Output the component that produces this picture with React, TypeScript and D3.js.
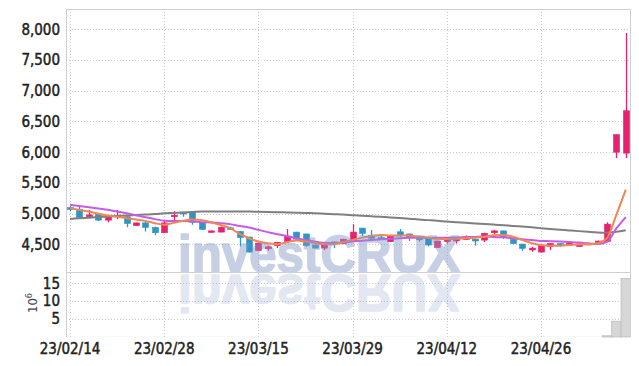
import React from 'react';
import * as d3 from 'd3';

const dates = [
  '23/02/14','23/02/15','23/02/16','23/02/17','23/02/20','23/02/21','23/02/22','23/02/23','23/02/24','23/02/27',
  '23/02/28','23/03/02','23/03/03','23/03/06','23/03/07','23/03/08','23/03/09','23/03/10','23/03/13','23/03/14',
  '23/03/15','23/03/16','23/03/17','23/03/20','23/03/21','23/03/22','23/03/23','23/03/24','23/03/27','23/03/28',
  '23/03/29','23/03/30','23/03/31','23/04/03','23/04/04','23/04/05','23/04/06','23/04/07','23/04/10','23/04/11',
  '23/04/12','23/04/13','23/04/14','23/04/17','23/04/18','23/04/19','23/04/20','23/04/21','23/04/24','23/04/25',
  '23/04/26','23/04/27','23/04/28','23/05/02','23/05/03','23/05/04','23/05/08','23/05/09','23/05/10','23/05/11',
];

const open = [
  5100,5070,4950,4985,4895,4950,4950,4806,4850,4775,
  4690,4965,5025,5035,4850,4700,4700,4770,4710,4620,
  4400,4430,4480,4545,4700,4670,4490,4440,4540,4510,
  4545,4765,4650,4610,4545,4705,4670,4620,4600,4450,
  4545,4557,4580,4585,4570,4690,4720,4580,4505,4410,
  4375,4465,4515,4485,4465,4505,4515,4545,6000,5985,
];
const high = [
  5130,5130,5060,4990,4965,5060,4955,4855,4870,4790,
  4880,5040,5030,5040,4855,4725,4790,4790,4715,4625,
  4530,4480,4540,4750,4705,4675,4495,4495,4545,4590,
  4830,4770,4735,4640,4650,4750,4675,4625,4605,4560,
  4590,4605,4645,4590,4690,4735,4725,4585,4510,4460,
  4485,4520,4520,4545,4512,4530,4560,4860,6290,7940,
];
const low = [
  5040,4940,4950,4880,4860,4910,4780,4800,4710,4650,
  4690,4880,4950,4820,4735,4695,4700,4735,4465,4370,
  4390,4400,4440,4545,4580,4460,4435,4410,4440,4505,
  4540,4635,4595,4575,4540,4620,4555,4545,4470,4445,
  4520,4515,4575,4480,4540,4660,4590,4505,4395,4380,
  4370,4410,4460,4480,4460,4490,4510,4540,5905,5905,
];
const close = [
  5070,4940,4980,4895,4960,4975,4840,4850,4775,4690,
  4850,4975,4995,4860,4745,4720,4780,4755,4610,4375,
  4520,4460,4535,4635,4585,4480,4440,4490,4530,4585,
  4700,4680,4600,4590,4645,4655,4620,4575,4490,4555,
  4585,4600,4625,4555,4680,4720,4610,4515,4435,4440,
  4480,4515,4485,4525,4508,4515,4555,4830,6285,6675,
];
// volume in millions of shares
const volume = [
  0.05,0.05,0.05,0.05,0.05,0.05,0.05,0.05,0.05,0.05,
  0.05,0.05,0.05,0.05,0.05,0.05,0.05,0.05,0.05,0.05,
  0.05,0.05,0.05,0.05,0.05,0.05,0.05,0.05,0.05,0.05,
  0.05,0.05,0.05,0.05,0.05,0.05,0.05,0.05,0.05,0.05,
  0.05,0.05,0.05,0.05,0.05,0.05,0.05,0.05,0.05,0.05,
  0.05,0.05,0.05,0.05,0.05,0.05,0.05,0.35,4.4,16.3,
];
// moving averages
const maShort = [
  5090,5060,5035,5000,4970,4950,4927,4905,4883,4845,
  4820,4850,4885,4905,4895,4860,4815,4764,4670,4600,
  4546,4520,4503,4535,4562,4546,4520,4503,4503,4535,
  4573,4610,4638,4655,4645,4645,4645,4627,4610,4590,
  4585,4590,4600,4610,4625,4650,4655,4627,4573,4520,
  4490,4480,4480,4490,4500,4505,4520,4600,4980,5390,
];
const maMid = [
  5144,5125,5106,5085,5062,5035,5008,4975,4943,4911,
  4885,4880,4880,4872,4862,4855,4845,4830,4800,4774,
  4736,4700,4666,4638,4600,4573,4546,4525,4520,4535,
  4546,4560,4573,4582,4590,4600,4610,4610,4610,4610,
  4610,4612,4615,4620,4627,4620,4615,4600,4585,4570,
  4557,4552,4546,4538,4530,4518,4505,4540,4760,4945,
];
const maLong = [
  4915,4925,4935,4945,4955,4962,4970,4978,4985,4993,
  5005,5012,5020,5028,5035,5035,5037,5037,5036,5034,
  5030,5027,5024,5020,5015,5010,5008,5000,4992,4985,
  4975,4965,4957,4948,4938,4928,4918,4905,4895,4885,
  4872,4862,4852,4842,4832,4822,4812,4800,4790,4778,
  4764,4752,4740,4728,4716,4705,4695,4690,4705,4730,
];
const priceTicks = [4500, 5000, 5500, 6000, 6500, 7000, 7500, 8000];
const volumeTicks = [5, 10, 15];
const dateTickIndex = [0, 10, 20, 30, 40, 50];

const W = 639, H = 366;
const L = 66, R = 630, T = 9, SEP = 272, B = 337;
const UP = '#e6226e', DOWN = '#2f95c8';
const tickFont = "'Liberation Sans Narrow','DejaVu Sans Condensed','Liberation Sans',sans-serif";

export default function App() {
  const idx = d3.range(dates.length);
  const x = d3.scaleLinear().domain([-0.43, dates.length - 1 + 0.45]).range([L, R]);
  const step = x(1) - x(0);
  const y = d3.scaleLinear().domain([4051, 8330]).range([SEP, T]);
  const yv = d3.scaleLinear().domain([0, 18.1]).range([B, SEP]);
  const fmt = d3.format(',');
  const mk = (arr: number[]) =>
    d3.line<number>().x((_, i) => x(i)).y((d) => y(d)).curve(d3.curveMonotoneX)(arr) || '';
  const bodyW = 6;

  return (
    <svg width={W} height={H} style={{ position: 'absolute', left: 0, top: 0, background: '#fff' }}>
      {/* grid */}
      <g stroke="#c6cbdc" strokeWidth={1} strokeDasharray="1,2">
        {priceTicks.map((t) => (
          <line key={'p' + t} x1={L} x2={R} y1={Math.round(y(t)) + 0.5} y2={Math.round(y(t)) + 0.5} />
        ))}
        {volumeTicks.map((t) => (
          <line key={'v' + t} x1={L} x2={R} y1={Math.round(yv(t)) + 0.5} y2={Math.round(yv(t)) + 0.5} />
        ))}
        {dateTickIndex.map((i) => (
          <line key={'d' + i} x1={Math.round(x(i)) + 0.5} x2={Math.round(x(i)) + 0.5} y1={T} y2={B} />
        ))}
      </g>
      {/* volume bars */}
      <g>
        {idx.map((i) => (
          <rect key={'vb' + i} x={x(i) - step / 2} width={step} y={yv(volume[i])} height={B - yv(volume[i])}
            fill="#d6d6d6" stroke="#bfbfbf" strokeWidth={volume[i] > 0.2 ? 0.8 : 0} />
        ))}
      </g>
      {/* candles */}
      <g>
        {idx.map((i) => {
          const up = close[i] >= open[i];
          const c = up ? UP : DOWN;
          const top = y(Math.max(open[i], close[i]));
          const bot = y(Math.min(open[i], close[i]));
          const cx = Math.round(x(i)) + 0.5;
          return (
            <g key={'c' + i}>
              <line x1={cx} x2={cx} y1={y(high[i])} y2={y(low[i])} stroke={c} strokeWidth={1.3} />
              <rect x={cx - bodyW / 2} width={bodyW} y={top} height={Math.max(bot - top, 1.5)} fill={c} stroke={c} strokeWidth={0.6} />
            </g>
          );
        })}
      </g>
      {/* moving averages */}
      <g fill="none" strokeWidth={2} strokeLinejoin="round">
        <path d={mk(maLong)} stroke="#7f7f7f" />
        <path d={mk(maMid)} stroke="#c65be9" />
        <path d={mk(maShort)} stroke="#f0874e" />
      </g>
      {/* watermark */}
      <g fontFamily="'Liberation Sans',Arial,sans-serif" fontWeight="bold" fontSize={51}>
        <g opacity={0.45}>
          <text x={178} y={272} textLength={282} lengthAdjust="spacingAndGlyphs" fill="#8597c4" stroke="#8597c4" strokeWidth={1.6} strokeLinejoin="round">investCRUX</text>
        </g>
        <g opacity={0.22} transform="translate(0,547) scale(1,-1)">
          <text x={178} y={272} textLength={282} lengthAdjust="spacingAndGlyphs" fill="#8597c4" stroke="#8597c4" strokeWidth={1.6} strokeLinejoin="round">investCRUX</text>
        </g>
      </g>
      {/* frame */}
      <g stroke="#cfcfd4" strokeWidth={1} fill="none">
        <line x1={L + 0.5} x2={L + 0.5} y1={T} y2={B} />
        <line x1={R + 0.5} x2={R + 0.5} y1={T} y2={B} />
        <line x1={L} x2={R + 1} y1={T + 0.5} y2={T + 0.5} />
        <line x1={L} x2={R + 1} y1={SEP + 0.5} y2={SEP + 0.5} />
      </g>
      {/* axis labels */}
      <g fontFamily={tickFont} fontSize={15} fill="#222" stroke="#222" strokeWidth={0.45}>
        {priceTicks.map((t) => (
          <text key={'pl' + t} x={60} y={y(t)} dy="0.36em" textAnchor="end">{fmt(t)}</text>
        ))}
        {volumeTicks.map((t) => (
          <text key={'vl' + t} x={60} y={yv(t)} dy="0.36em" textAnchor="end">{t}</text>
        ))}
        {dateTickIndex.map((i) => (
          <text key={'dl' + i} x={x(i)} y={354} textAnchor="middle">{dates[i]}</text>
        ))}
      </g>
      <text transform="translate(37,303) rotate(-90)" textAnchor="middle" fontFamily={tickFont} fontSize={13} fill="#444">
        10<tspan dy={-5} fontSize={9}>6</tspan>
      </text>
    </svg>
  );
}
